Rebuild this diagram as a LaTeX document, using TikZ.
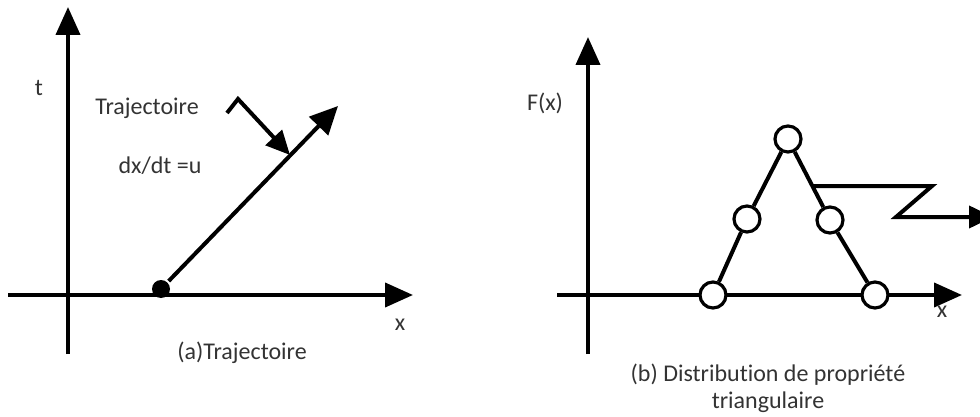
\documentclass[tikz,border=0pt]{standalone}
\usepackage{fontspec}
\setmainfont{Carlito}[Ligatures={NoCommon}]
\usetikzlibrary{arrows.meta}

\begin{document}
\begin{tikzpicture}[x=.5pt,y=-.5pt,line width=2pt,
  axis/.style={-{Triangle[length=14pt,width=12pt]}},
  lbl/.style={font=\fontsize{12}{13.5}\selectfont,text=black!80},
  pt/.style={circle,draw,fill=white,line width=1.6pt,minimum size=13pt,inner sep=0pt}]
  \useasboundingbox (0,0) rectangle (980,417);

  % (a) trajectoire
  \coordinate (tb) at (68,354);
  \coordinate (tt) at (68,7);
  \coordinate (xl) at (8,295);
  \coordinate (xr) at (413,295);
  \draw[axis] (tb) -- (tt);
  \draw[axis] (xl) -- (xr);
  \node[lbl] (t) at (39,88) {t};
  \node[lbl] (xa) at (400,325) {x};
  \node[circle,fill,inner sep=0pt,minimum size=9pt] (start) at (161,289) {};
  \coordinate (end) at (338,106);
  \draw[-{Triangle[length=14pt,width=13pt]}] (start) -- (end);
  \node[lbl] (traj) at (147,108) {Trajectoire};
  \node[lbl] (vit) at (160,166) {dx/dt =u};
  \coordinate (bs) at (227,113);
  \coordinate (hit) at (290,155);
  \draw[-{Triangle[length=12pt,width=11pt]}] (bs) -- (238,99) -- (hit);
  \node[lbl] (capa) at (242,353) {(a)Trajectoire};

  % (b) distribution triangulaire
  \begin{scope}
    \coordinate (fb) at (588,354);
    \coordinate (ft) at (588,37);
    \coordinate (gl) at (557,295);
    \coordinate (gr) at (962,295);
    \draw[axis] (fb) -- (ft);
    \draw[axis] (gl) -- (gr);
    \node[lbl] (F) at (545,103) {F(x)};
    \node[lbl] (xb) at (942,312) {x};
    \node[pt] (bl) at (713,295) {};
    \node[pt] (lm) at (747,219) {};
    \node[pt] (ap) at (788,139) {};
    \node[pt] (rm) at (830,220) {};
    \node[pt] (br) at (875,295) {};
    \draw (bl) -- (lm) -- (ap) -- (rm) -- (br);
    \coordinate (zs) at (813,186);
    \coordinate (ze) at (993,217);
    \draw[-{Triangle[length=12pt,width=11pt]}] (zs) -- (932,186) -- (896,217) -- (ze);
    \node[lbl,align=center] (capb) at (768,388) {(b) Distribution de propriété\\triangulaire};
  \end{scope}
\end{tikzpicture}
\end{document}
